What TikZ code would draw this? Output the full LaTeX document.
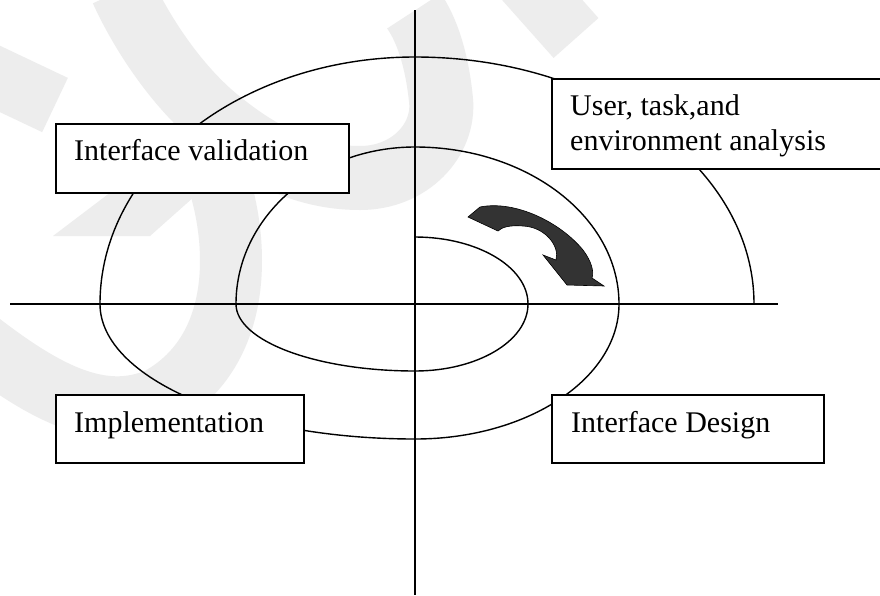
\documentclass[tikz,border=0pt]{standalone}
\usepackage{fontspec}
\setmainfont{Liberation Serif}
\begin{document}
\begin{tikzpicture}[x=1pt,y=-1pt,
  wm/.style={draw=black!7, line width=64pt, line cap=butt},
  wmfill/.style={fill=black!7},
  axisline/.style={line width=1.4pt},
  spiralline/.style={line width=1.4pt},
  box/.style={draw, line width=1.6pt, fill=white, inner sep=0pt, anchor=north west},
  lbl/.style={font=\fontsize{30pt}{35pt}\selectfont, inner sep=0pt, anchor=base west},
  arrowfill/.style={fill=black!80, draw=black, line width=0.6pt}]
\useasboundingbox (0,0) rectangle (880,595);
\clip (0,0) rectangle (880,595);
\fill[white] (0,0) rectangle (880,595);
% faint watermark
\draw[wm] (122,-10) .. controls (140,30) and (175,85) .. (218,120)
  .. controls (255,150) and (300,178) .. (360,178)
  .. controls (410,178) and (445,140) .. (441,100)
  .. controls (437,60) and (427,30) .. (414,11);
\draw[wm, line width=62pt] (215,170) .. controls (240,240) and (245,350) .. (160,398)
  .. controls (100,425) and (40,390) .. (-30,335);
\fill[wmfill] (202,123) -- (53,236) -- (150,236) -- (277,123) -- cycle;
\draw[wm, line width=60pt] (-40,60) -- (55,105);
\draw[wm, line width=60pt] (520,-25) -- (576,38);
% axes
\coordinate (vtop) at (415,10);
\coordinate (vbot) at (415,595);
\coordinate (hleft) at (10,304);
\coordinate (hright) at (778,304);
\draw[axisline] (vtop) -- (vbot);
\draw[axisline] (hleft) -- (hright);
% spiral
\coordinate (sstart) at (415,237);
\draw[spiralline] (sstart)
  arc[start angle=-90, end angle=0, x radius=113, y radius=67]
  arc[start angle=0, end angle=90, x radius=113, y radius=67]
  arc[start angle=90, end angle=180, x radius=179, y radius=67]
  arc[start angle=180, end angle=270, x radius=179, y radius=157]
  arc[start angle=-90, end angle=0, x radius=204, y radius=157]
  arc[start angle=0, end angle=90, x radius=204, y radius=135]
  arc[start angle=90, end angle=180, x radius=315, y radius=135]
  arc[start angle=180, end angle=270, x radius=315, y radius=247]
  arc[start angle=-90, end angle=0, x radius=339, y radius=247];
% boxes
\node[box, minimum width=293pt, minimum height=69pt] (iv) at (55,123) {};
\node[box, minimum width=345pt, minimum height=90pt] (ut) at (551,78) {};
\node[box, minimum width=248pt, minimum height=68pt] (im) at (55,394) {};
\node[box, minimum width=272pt, minimum height=68pt] (id) at (551,394) {};
% labels
\node[lbl] (ivt) at (74,160) {Interface validation};
\node[lbl] (utt1) at (570,115) {User, task,and};
\node[lbl] (utt2) at (570,150) {environment analysis};
\node[lbl] (imt) at (74,432) {Implementation};
\node[lbl] (idt) at (571,432) {Interface Design};
% curved arrow
\draw[arrowfill] (468,217) -- (480,207) .. controls (515,200) and (560,222) .. (583,250)
  .. controls (592,262) and (594,272) .. (592,278) -- (604,286) -- (567,285) -- (543,255) -- (556,260)
  .. controls (560,246) and (545,227) .. (523,226) .. controls (510,225) and (502,227) .. (498,231) -- cycle;
\end{tikzpicture}
\end{document}
